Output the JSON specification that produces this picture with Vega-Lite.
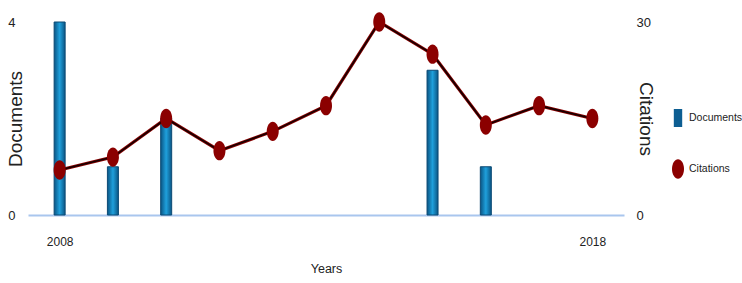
{
  "$schema": "https://vega.github.io/schema/vega-lite/v6.json",
  "width": 596,
  "height": 193,
  "autosize": {"type": "none"},
  "padding": {"left": 28, "top": 22, "right": 118, "bottom": 68},
  "background": "white",
  "config": {
    "view": {"stroke": null},
    "font": "Liberation Sans",
    "axis": {
      "grid": false,
      "ticks": false,
      "domain": false,
      "labelFont": "Liberation Sans",
      "labelFontSize": 13,
      "labelColor": "#222",
      "titleFont": "Liberation Sans",
      "titleFontSize": 19,
      "titleFontWeight": "normal",
      "titleColor": "#222"
    },
    "legend": {
      "labelFont": "Liberation Sans",
      "labelFontSize": 10.5,
      "labelColor": "#222"
    }
  },
  "data": {
    "values": [
      {"year": 2008, "documents": 4, "citations": 7},
      {"year": 2009, "documents": 1, "citations": 9},
      {"year": 2010, "documents": 2, "citations": 15},
      {"year": 2011, "documents": 0, "citations": 10},
      {"year": 2012, "documents": 0, "citations": 13},
      {"year": 2013, "documents": 0, "citations": 17},
      {"year": 2014, "documents": 0, "citations": 30},
      {"year": 2015, "documents": 3, "citations": 25},
      {"year": 2016, "documents": 1, "citations": 14},
      {"year": 2017, "documents": 0, "citations": 17},
      {"year": 2018, "documents": 0, "citations": 15}
    ]
  },
  "encoding": {
    "x": {
      "field": "year",
      "type": "quantitative",
      "scale": {"domain": [2007.5, 2018.5], "nice": false, "zero": false},
      "axis": {
        "values": [2008, 2018],
        "format": "d",
        "domain": true,
        "domainColor": "#a9c6ee",
        "domainWidth": 2,
        "labelPadding": 21,
        "labelFontSize": 12,
        "title": "Years",
        "titleFontSize": 12.5,
        "titlePadding": 15
      }
    }
  },
  "layer": [
    {
      "transform": [{"filter": "datum.documents > 0"}],
      "mark": {
        "type": "bar",
        "size": 11,
        "fill": {
          "gradient": "linear",
          "x1": 0, "y1": 0, "x2": 1, "y2": 0,
          "stops": [
            {"offset": 0, "color": "#0a5584"},
            {"offset": 0.5, "color": "#1fa0dc"},
            {"offset": 1, "color": "#0a5584"}
          ]
        },
        "stroke": "#0b4a75",
        "strokeWidth": 1
      },
      "encoding": {
        "y": {
          "field": "documents",
          "type": "quantitative",
          "scale": {"domain": [0, 4], "nice": false},
          "axis": {
            "orient": "left",
            "values": [0, 4],
            "title": "Documents",
            "labelPadding": 13,
            "titleX": -13,
            "titleY": 96.5,
            "titleBaseline": "middle",
            "titleAngle": -90
          }
        }
      }
    },
    {
      "layer": [
        {
          "mark": {"type": "line", "color": "#8b0000", "strokeWidth": 3.2},
          "encoding": {
            "y": {
              "field": "citations",
              "type": "quantitative",
              "scale": {"domain": [0, 30], "nice": false},
              "axis": {
                "orient": "right",
                "values": [0, 30],
                "title": "Citations",
                "labelPadding": 12,
                "titleX": 21,
                "titleY": 96.5,
                "titleBaseline": "middle",
                "titleAngle": 90
              }
            }
          }
        },
        {
          "mark": {"type": "line", "color": "#150000", "strokeWidth": 1.6},
          "encoding": {"y": {"field": "citations", "type": "quantitative"}}
        },
        {
          "mark": {
            "type": "point",
            "filled": true,
            "opacity": 1,
            "size": 400,
            "strokeWidth": 0
          },
          "encoding": {
            "y": {"field": "citations", "type": "quantitative"},
            "shape": {
              "datum": "Citations",
              "type": "nominal",
              "scale": {
                "domain": ["Documents", "Citations"],
                "range": ["M-0.42,-0.9H0.42V0.9H-0.42Z", "M-0.6,0A0.6,0.97 0 1,0 0.6,0A0.6,0.97 0 1,0 -0.6,0Z"]
              },
              "legend": {
                "title": null,
                "orient": "none",
                "legendX": 639,
                "legendY": 85,
                "padding": 0,
                "symbolSize": 400,
                "labelOffset": 0,
                "rowPadding": 31
              }
            },
            "color": {
              "datum": "Citations",
              "type": "nominal",
              "scale": {"domain": ["Documents", "Citations"], "range": ["#0d5e92", "#8b0000"]},
              "legend": {
                "title": null,
                "orient": "none",
                "legendX": 639,
                "legendY": 85,
                "padding": 0,
                "symbolSize": 400,
                "labelOffset": 0,
                "rowPadding": 31
              }
            }
          }
        }
      ]
    }
  ],
  "resolve": {"scale": {"y": "independent"}}
}
